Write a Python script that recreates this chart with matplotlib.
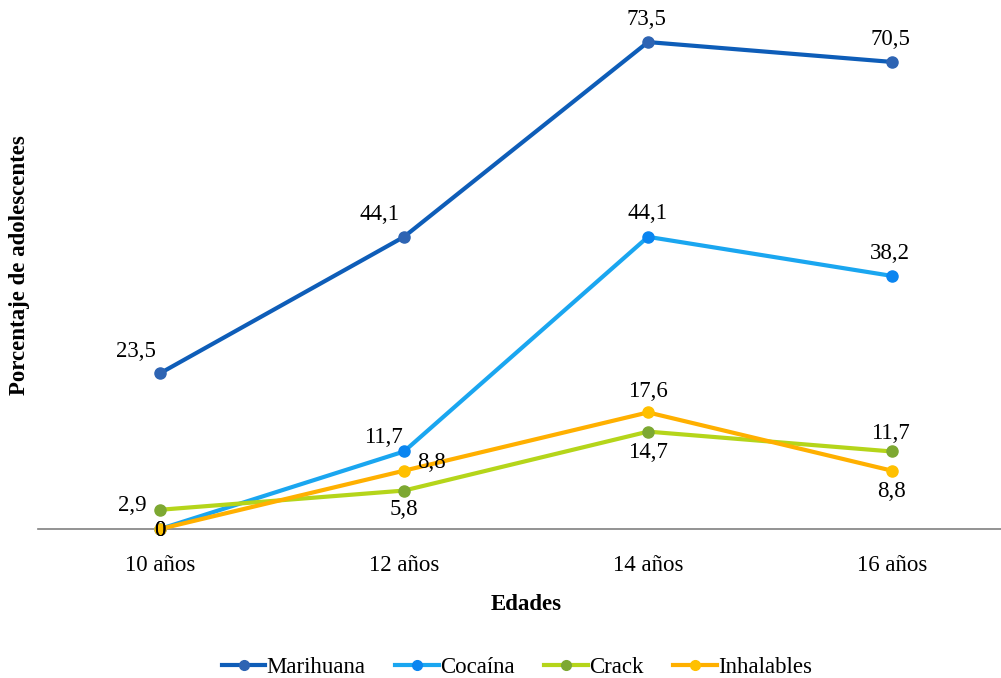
import matplotlib.pyplot as plt
from matplotlib.lines import Line2D

plt.rcParams['font.family'] = ['Liberation Serif', 'DejaVu Serif']

edades = ['10 años', '12 años', '14 años', '16 años']
marihuana = [23.5, 44.1, 73.5, 70.5]
cocaina = [0, 11.7, 44.1, 38.2]
crack = [2.9, 5.8, 14.7, 11.7]
inhalables = [0, 8.8, 17.6, 8.8]

# (name, values, line colour, marker colour, label offsets in px)
series = [
    ('Marihuana', marihuana, '#0E5DB8', '#2E64B3',
     [(-24, 22), (-24, 22), (-2, 23), (-2, 22)]),
    ('Cocaína', cocaina, '#1AA6F0', '#0A85F0',
     [(0, -2), (-21, 14), (-1, 23), (-2, 22)]),
    ('Crack', crack, '#B5D51A', '#7DA832',
     [(-28, 4), (0, -19), (0, -21), (-2, 18)]),
    ('Inhalables', inhalables, '#FFB000', '#FFC000',
     [(0, -2), (27, 8), (0, 21), (0, -21)]),
]

fig = plt.figure(figsize=(10.01, 6.78), dpi=100)
ax = fig.add_axes([38 / 1001, 149 / 678, 976 / 1001, 530 / 678])
x = list(range(len(edades)))

for name, vals, lc, mc, offs in series:
    ax.plot(x, vals, color=lc, lw=3, marker='o', markersize=8,
            markerfacecolor=mc, markeredgecolor=mc, clip_on=False,
            solid_capstyle='round', zorder=3)
for name, vals, lc, mc, offs in series:
    for xi, v, (dx, dy) in zip(x, vals, offs):
        txt = ('%.1f' % v).replace('.', ',') if v != 0 else '0'
        ax.annotate(txt, (xi, v), xytext=(dx, dy), textcoords='offset pixels',
                    ha='center', va='center', fontsize=16.5, color='black',
                    zorder=5)

ax.set_xlim(-0.5, 3.5)
ax.set_ylim(0, 80)
ax.set_xticks(x)
ax.set_xticklabels(edades, fontsize=16.5)
ax.tick_params(axis='x', length=0, pad=19)
ax.set_yticks([])
for s in ['top', 'right', 'left']:
    ax.spines[s].set_visible(False)
ax.spines['bottom'].set_color('#808080')
ax.spines['bottom'].set_linewidth(1.2)

fig.text(526 / 1001, 1 - 605 / 678, 'Edades',
         ha='center', va='center', fontsize=16.5, fontweight='bold')
fig.text(20 / 1001, 1 - 265 / 678, 'Porcentaje de adolescentes',
         ha='center', va='center', rotation=90, fontsize=16.5, fontweight='bold')

handles = [Line2D([0], [0], color=lc, lw=3, marker='o', markersize=7,
                  markerfacecolor=mc, markeredgecolor=mc)
           for name, vals, lc, mc, offs in series]
fig.legend(handles, [s[0] for s in series], loc='center',
           bbox_to_anchor=(517 / 1001, 1 - 667 / 678), ncol=4, frameon=False,
           fontsize=16.5, handlelength=1.9, handletextpad=0.05,
           columnspacing=1.3)

fig.savefig('out.png', dpi=100)
